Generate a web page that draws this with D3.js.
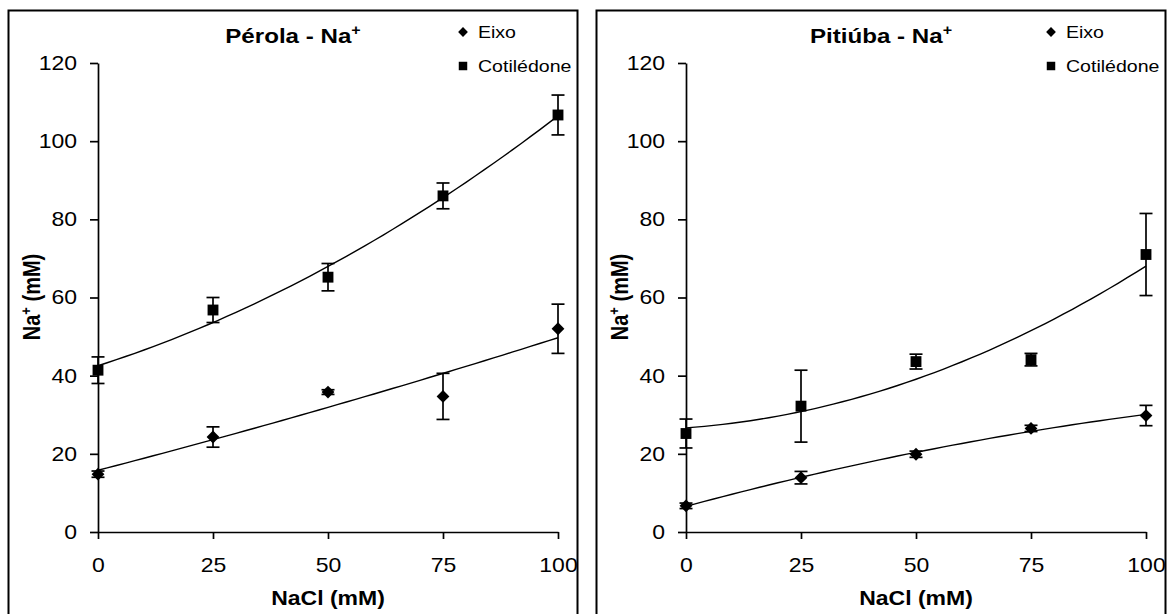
<!DOCTYPE html>
<html>
<head>
<meta charset="utf-8">
<script src="https://cdnjs.cloudflare.com/ajax/libs/d3/7.8.5/d3.min.js"></script>
<style>
    body { margin: 0; background: #fff; }
    svg { display: block; font-family: "Liberation Sans", Arial, sans-serif; }
</style>
</head>
<body>
<div id="chart"></div>
<script>
// NaCl doses (mM) and tick values
const nacl = [0, 25, 50, 75, 100];
const yTicks = [0, 20, 40, 60, 80, 100, 120];
const seriesNames = ["Eixo", "Cotilédone"];

// Pérola - Na+
const perolaEixo = [14.8, 24.3, 35.8, 34.7, 52.0];
const perolaEixoErr = [0.8, 2.6, 0.6, 5.9, 6.3];
const perolaCot = [41.4, 56.8, 65.2, 86.0, 106.7];
const perolaCotErr = [3.4, 3.2, 3.5, 3.3, 5.1];

// Pitiúba - Na+
const pitiubaEixo = [6.7, 13.9, 19.9, 26.5, 29.8];
const pitiubaEixoErr = [0.7, 1.6, 0.8, 0.8, 2.6];
const pitiubaCot = [25.2, 32.2, 43.6, 44.1, 71.0];
const pitiubaCotErr = [3.7, 9.2, 1.9, 1.6, 10.5];

const panels = [
    { title: "Pérola - Na", eixo: perolaEixo, eixoErr: perolaEixoErr, cot: perolaCot, cotErr: perolaCotErr, dx: 0 },
    { title: "Pitiúba - Na", eixo: pitiubaEixo, eixoErr: pitiubaEixoErr, cot: pitiubaCot, cotErr: pitiubaCotErr, dx: 588 }
];

const W = 1168, H = 614;
const SX = 1.15; // the picture is stretched horizontally

const svg = d3.select('#chart').append('svg')
    .attr('width', W)
    .attr('height', H);

panels.forEach(p => panel(svg.append('g').attr('transform', `translate(${p.dx},0)`), p));

// quadratic least squares fit (Excel polynomial trendline, order 2)
function polyfit2(xs, ys) {
    let n = xs.length, s = [0, 0, 0, 0, 0], t = [0, 0, 0];
    for (let i = 0; i < n; i++) {
        for (let k = 0; k < 5; k++) s[k] += Math.pow(xs[i], k);
        for (let k = 0; k < 3; k++) t[k] += ys[i] * Math.pow(xs[i], k);
    }
    const A = [[s[0], s[1], s[2], t[0]], [s[1], s[2], s[3], t[1]], [s[2], s[3], s[4], t[2]]];
    for (let i = 0; i < 3; i++) {
        for (let j = i + 1; j < 3; j++) {
            const f = A[j][i] / A[i][i];
            for (let k = i; k < 4; k++) A[j][k] -= f * A[i][k];
        }
    }
    const c = [0, 0, 0];
    for (let i = 2; i >= 0; i--) {
        let v = A[i][3];
        for (let k = i + 1; k < 3; k++) v -= A[i][k] * c[k];
        c[i] = v / A[i][i];
    }
    return x => c[0] + c[1] * x + c[2] * x * x;
}

function stretch(sel) {
    sel.each(function () {
        const t = d3.select(this);
        const x = +t.attr('x') || 0, y = +t.attr('y') || 0;
        t.attr('x', 0).attr('y', 0).attr('transform', `translate(${x},${y}) scale(${SX},1)`);
    });
}

function panel(g, p) {
    const x = d3.scaleLinear().domain([0, 100]).range([98, 558]);
    const y = d3.scaleLinear().domain([0, 120]).range([532, 63]);

    // frame
    g.append('rect')
        .attr('x', 8.5).attr('y', 10.5)
        .attr('width', 569).attr('height', 640)
        .attr('fill', 'none')
        .attr('stroke', '#000')
        .attr('stroke-width', 2);

    // axes
    const yAxis = g.append('g')
        .attr('transform', `translate(${x(0)},0)`)
        .call(d3.axisLeft(y).tickValues(yTicks).tickSize(8).tickSizeOuter(0).tickPadding(13));
    const xAxis = g.append('g')
        .attr('transform', `translate(0,${y(0)})`)
        .call(d3.axisBottom(x).tickValues(nacl).tickSize(7).tickSizeOuter(0).tickPadding(19));

    [yAxis, xAxis].forEach(a => {
        a.selectAll('path, line').attr('stroke', '#000').attr('stroke-width', 1.7);
        a.selectAll('text')
            .attr('fill', '#000')
            .style('font-size', '20px')
            .call(stretch);
    });

    // trend lines
    const line = d3.line().x(d => x(d[0])).y(d => y(d[1]));
    [p.eixo, p.cot].forEach(vals => {
        const f = polyfit2(nacl, vals);
        g.append('path')
            .datum(d3.range(0, 101, 2).map(v => [v, f(v)]))
            .attr('d', line)
            .attr('fill', 'none')
            .attr('stroke', '#000')
            .attr('stroke-width', 1.4);
    });

    // error bars and markers
    const series = [
        { vals: p.eixo, err: p.eixoErr, shape: 'diamond' },
        { vals: p.cot, err: p.cotErr, shape: 'square' }
    ];
    series.forEach(s => {
        const pts = nacl.map((n, i) => ({ x: n, v: s.vals[i], e: s.err[i] }));
        const eb = g.append('g').attr('stroke', '#000').attr('stroke-width', 1.7);
        eb.selectAll('line.v').data(pts).join('line')
            .attr('class', 'v')
            .attr('x1', d => x(d.x)).attr('x2', d => x(d.x))
            .attr('y1', d => y(d.v + d.e)).attr('y2', d => y(d.v - d.e));
        eb.selectAll('line.t').data(pts).join('line')
            .attr('class', 't')
            .attr('x1', d => x(d.x) - 6.5).attr('x2', d => x(d.x) + 6.5)
            .attr('y1', d => y(d.v + d.e)).attr('y2', d => y(d.v + d.e));
        eb.selectAll('line.b').data(pts).join('line')
            .attr('class', 'b')
            .attr('x1', d => x(d.x) - 6.5).attr('x2', d => x(d.x) + 6.5)
            .attr('y1', d => y(d.v - d.e)).attr('y2', d => y(d.v - d.e));

        const sym = s.shape === 'diamond'
            ? d3.symbol(d3.symbolSquare, 82)
            : d3.symbol(d3.symbolSquare, 118);
        g.append('g').selectAll('path').data(pts).join('path')
            .attr('d', sym)
            .attr('fill', '#000')
            .attr('transform', d => `translate(${x(d.x)},${y(d.v)})` + (s.shape === 'diamond' ? ' rotate(45)' : ''));
    });

    // title
    const title = g.append('text')
        .attr('x', 293).attr('y', 43)
        .attr('text-anchor', 'middle')
        .style('font-size', '21px')
        .style('font-weight', 'bold');
    title.append('tspan').text(p.title);
    title.append('tspan').attr('dy', -8).style('font-size', '14px').text('+');
    title.call(stretch);

    // legend
    const legend = g.append('g');
    seriesNames.forEach((name, i) => {
        const ly = 32 + i * 34;
        legend.append('path')
            .attr('d', i === 0 ? d3.symbol(d3.symbolSquare, 48) : d3.symbol(d3.symbolSquare, 72))
            .attr('transform', `translate(463,${ly})` + (i === 0 ? ' rotate(45)' : ''))
            .attr('fill', '#000');
        legend.append('text')
            .attr('x', 478).attr('y', ly + 6)
            .style('font-size', '17px')
            .text(name)
            .call(stretch);
    });

    // axis titles
    g.append('text')
        .attr('x', 328).attr('y', 605)
        .attr('text-anchor', 'middle')
        .style('font-size', '20px')
        .style('font-weight', 'bold')
        .text('NaCl (mM)')
        .call(stretch);

    const yl = g.append('text')
        .attr('text-anchor', 'middle')
        .attr('transform', `translate(40,297) scale(${SX},1) rotate(-90)`)
        .style('font-size', '20px')
        .style('font-weight', 'bold');
    yl.append('tspan').text('Na');
    yl.append('tspan').attr('dy', -8).style('font-size', '13px').text('+');
    yl.append('tspan').attr('dy', 8).text(' (mM)');
}
</script>
</body>
</html>
